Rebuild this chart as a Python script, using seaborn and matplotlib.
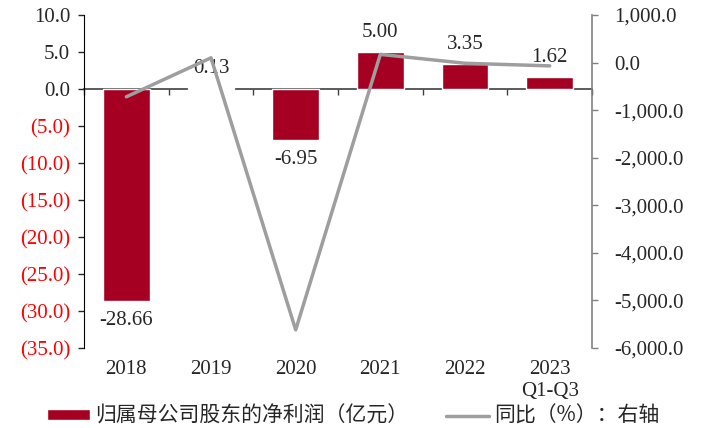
import numpy as np
import pandas as pd
import matplotlib
matplotlib.use('Agg')
import matplotlib.pyplot as plt
from matplotlib.ticker import FuncFormatter, MultipleLocator, FixedLocator
import seaborn as sns

# Data
years = ['2018', '2019', '2020', '2021', '2022', '2023\nQ1-Q3']
profit = [-28.66, 0.13, -6.95, 5.00, 3.35, 1.62]          # 归属母公司股东的净利润 (亿元)
yoy = [-720, 100, -5620, 172, -15, -70]                    # 同比 (%)

bar_name = '归属母公司股东的净利润（亿元）'
line_name = '同比（%）：右轴'

sns.set_style('ticks')
plt.rcParams['font.family'] = ['Liberation Serif', 'Noto Sans CJK SC']
plt.rcParams['font.size'] = 15

df = pd.DataFrame({'year': years, 'profit': profit, 'pos': np.arange(len(years)), 'yoy': yoy})

fig = plt.figure(figsize=(7.02, 4.28), dpi=100)
ax = fig.add_axes([0.1197, 0.187, 0.7236, 0.778])

sns.barplot(data=df, x='year', y='profit', order=years, color='#A50021',
            saturation=1, width=0.55, ax=ax, label=bar_name)
ax.bar_label(ax.containers[0], fmt='%.2f', padding=7, fontsize=15)
if ax.get_legend() is not None:
    ax.get_legend().remove()

ax.set_ylim(-35, 10)
ax.yaxis.set_major_locator(MultipleLocator(5))
ax.yaxis.set_major_formatter(FuncFormatter(
    lambda v, p: f'({abs(v):.1f})' if v < -1e-9 else f'{abs(v):.1f}'))
ax.set_xlim(-0.5, len(years) - 0.5)
ax.set_xlabel('')
ax.set_ylabel('')
ax.tick_params(axis='x', length=0, pad=9, labelsize=15)
ax.tick_params(axis='y', length=4, width=1, pad=6, labelsize=15)
for side in ['top', 'bottom', 'right']:
    ax.spines[side].set_visible(False)
ax.spines['left'].set_color('black')

fig.canvas.draw()
for lab in ax.get_yticklabels():
    if lab.get_position()[1] < 0:
        lab.set_color('red')

# zero line with ticks at the category boundaries
zero = ax.secondary_xaxis(35 / 45)
zero.set_alignment('bottom')
zero.xaxis.set_major_locator(FixedLocator(np.arange(len(years) + 1) - 0.5))
zero.tick_params(axis='x', direction='out', length=4, width=1, color='#404040',
                 labelbottom=False, labeltop=False)
zero.spines['bottom'].set_color('#404040')
zero.spines['bottom'].set_linewidth(1.2)

ax2 = ax.twinx()
sns.lineplot(data=df, x='pos', y='yoy', color='#9E9E9E', linewidth=2.5,
             ax=ax2, label=line_name, legend=False)
ax2.set_ylim(-6000, 1000)
ax2.yaxis.set_major_locator(MultipleLocator(1000))
ax2.yaxis.set_major_formatter(FuncFormatter(lambda v, p: f'{v:,.1f}'))
ax2.set_ylabel('')
ax2.set_xlabel('')
ax2.tick_params(axis='y', length=4, width=1, pad=12, labelsize=15, color='#808080')
for side in ['top', 'bottom', 'left']:
    ax2.spines[side].set_visible(False)
ax2.spines['right'].set_color('#808080')
ax2.spines['right'].set_linewidth(1.2)

h1, l1 = ax.get_legend_handles_labels()
h2, l2 = ax2.get_legend_handles_labels()
fig.legend(h1 + h2, l1 + l2, loc='center', bbox_to_anchor=(0.503, 0.028), ncol=2,
           frameon=False, handlelength=2.07, handleheight=0.43, columnspacing=1.8,
           handletextpad=0.25, borderpad=0, borderaxespad=0,
           prop={'family': ['Noto Sans CJK SC'], 'size': 15})

fig.savefig('out.png', dpi=100)
